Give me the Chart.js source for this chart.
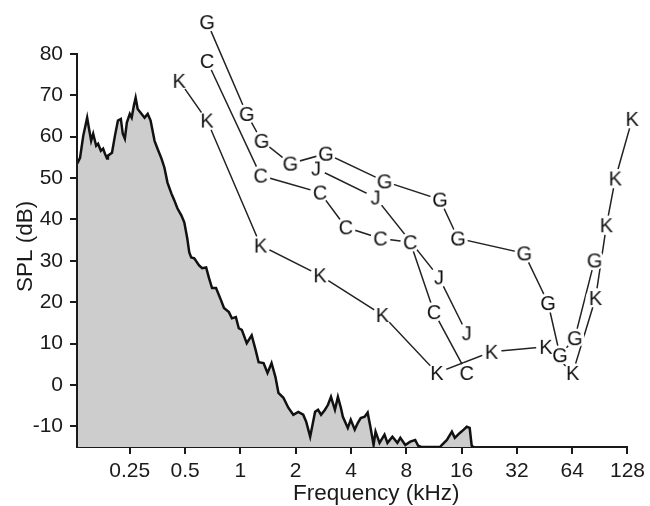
<!DOCTYPE html>
<html>
<head>
<meta charset="utf-8">
<script src="https://cdn.jsdelivr.net/npm/chart.js@4/dist/chart.umd.min.js"></script>
<style>
  html, body { margin: 0; padding: 0; background: #fff; }
  #wrap { width: 650px; height: 506px; }
</style>
</head>
<body>
<div id="wrap"><canvas id="c" width="650" height="506"></canvas></div>
<script>
// ---- data ----
const xTickValues = [0.25, 0.5, 1, 2, 4, 8, 16, 32, 64, 128];
const xTickLabels = ['0.25', '0.5', '1', '2', '4', '8', '16', '32', '64', '128'];
const yTickValues = [-10, 0, 10, 20, 30, 40, 50, 60, 70, 80];
const yAxisFrom = -15;
const yAxisTo = 80;
const xTitle = 'Frequency (kHz)';
const yTitle = 'SPL (dB)';

const gFreq = [0.659, 1.083, 1.305, 1.87, 2.92, 6.09, 12.2, 15.3, 35.1, 47.3, 54.9, 66.1, 84.7];
const gDb   = [87.7, 65.5, 59.0, 53.5, 55.9, 49.2, 44.8, 35.4, 31.8, 19.8, 7.2, 11.3, 30.1];

const cFreq = [0.659, 1.289, 2.715, 3.75, 5.79, 8.41, 11.33, 17.07];
const cDb   = [78.3, 50.6, 46.5, 38.1, 35.4, 34.5, 17.6, 2.9];

const jFreq = [2.58, 5.44, 12.05, 17.07];
const jDb   = [52.3, 45.3, 26.0, 12.5];

const kFreq = [0.465, 0.659, 1.289, 2.715, 5.94, 11.76, 23.3, 46.1, 64.5, 85.8, 98.4, 110, 135.9];
const kDb   = [73.5, 63.9, 33.7, 26.5, 16.9, 2.9, 8.0, 9.2, 2.9, 21.0, 38.6, 49.9, 64.3];

const specFreq = [0.1295, 0.134, 0.1395, 0.1465, 0.150, 0.154, 0.158, 0.164, 0.168, 0.174,
  0.179, 0.183, 0.188, 0.190, 0.200, 0.2075, 0.2155, 0.2235, 0.229, 0.235,
  0.241, 0.250, 0.256, 0.263, 0.269, 0.276, 0.290, 0.301, 0.313, 0.3245,
  0.341, 0.354, 0.372, 0.386, 0.401, 0.421, 0.437, 0.454, 0.477, 0.495,
  0.514, 0.527, 0.540, 0.561, 0.596, 0.619, 0.651, 0.675, 0.701, 0.737,
  0.784, 0.814, 0.866, 0.899, 0.945, 0.980, 1.018, 1.083, 1.152, 1.211,
  1.257, 1.337, 1.405, 1.478, 1.552, 1.611, 1.715, 1.824, 1.941, 2.066,
  2.198, 2.281, 2.398, 2.551, 2.648, 2.749, 2.888, 2.998, 3.113, 3.271,
  3.395, 3.524, 3.613, 3.844, 3.989, 4.193, 4.353, 4.518, 4.748, 4.929,
  5.116, 5.311, 5.443, 5.721, 6.089, 6.318, 6.722, 7.154, 7.425, 7.902,
  8.409, 8.946, 9.285, 9.64, 12.20, 12.51, 13.31, 14.17, 14.70, 15.65,
  16.44, 17.07, 17.71, 18.16, 18.62];
const specDb = [53.5, 54.9, 60.2, 64.6, 61.9, 59.0, 60.7, 57.8, 58.3, 56.6,
  57.1, 55.9, 54.7, 55.4, 56.1, 60.2, 63.9, 64.3, 60.7, 59.5,
  63.4, 65.5, 64.6, 67.5, 69.4, 66.7, 65.5, 64.6, 65.5, 63.9,
  59.0, 57.1, 54.7, 52.5, 48.9, 46.3, 44.6, 42.7, 41.0, 39.3,
  35.4, 32.0, 30.8, 30.6, 28.9, 28.2, 28.4, 25.8, 23.4, 23.4,
  20.5, 18.6, 17.6, 16.1, 16.4, 13.7, 13.3, 10.1, 12.0, 8.4,
  5.5, 5.3, 2.9, 5.3, 1.9, -1.9, -3.1, -5.5, -7.2, -6.5,
  -7.2, -8.9, -12.5, -6.5, -6.0, -7.2, -6.0, -4.8, -2.9, -6.0,
  -2.9, -5.5, -7.7, -10.4, -8.4, -10.8, -9.2, -8.0, -7.7, -6.7,
  -10.4, -14.5, -11.3, -14.0, -12.0, -14.0, -12.5, -14.0, -12.8, -14.5,
  -13.7, -13.3, -14.7, -15.0, -15.0, -14.5, -13.3, -11.3, -12.8, -11.6,
  -10.8, -10.1, -10.4, -14.7, -15.0];

const series = [
  { letter: 'G', freq: gFreq, db: gDb },
  { letter: 'C', freq: cFreq, db: cDb },
  { letter: 'J', freq: jFreq, db: jDb },
  { letter: 'K', freq: kFreq, db: kDb }
];

// ---- styling ----
const FONT = '"Liberation Sans", Arial, Helvetica, sans-serif';
const INK = '#1a1a1a';

function pts(fr, db) { return fr.map((f, i) => ({ x: f, y: db[i] })); }

function letterCanvas(ch) {
  const cv = document.createElement('canvas');
  cv.width = 28; cv.height = 28;
  const ctx = cv.getContext('2d');
  ctx.fillStyle = '#111';
  ctx.font = '20px ' + FONT;
  ctx.textAlign = 'center';
  ctx.textBaseline = 'alphabetic';
  ctx.fillText(ch, 14, 14 + 7.2);
  return cv;
}

const datasets = [];
datasets.push({
  label: 'spectrum',
  data: pts(specFreq, specDb),
  borderColor: '#111',
  borderWidth: 2.5,
  backgroundColor: '#cdcdcd',
  fill: 'start',
  pointRadius: 0,
  tension: 0,
  order: 4
});
series.forEach(s => {
  datasets.push({
    label: s.letter + ' line',
    data: pts(s.freq, s.db),
    borderColor: '#222',
    borderWidth: 1.5,
    pointRadius: 0,
    fill: false,
    tension: 0,
    clip: false,
    order: 3
  });
  datasets.push({
    label: s.letter + ' bg',
    data: pts(s.freq, s.db),
    showLine: false,
    pointStyle: 'circle',
    pointRadius: 10,
    pointBackgroundColor: '#ffffff',
    pointBorderColor: 'rgba(0,0,0,0)',
    pointBorderWidth: 0,
    clip: false,
    order: 2
  });
  datasets.push({
    label: s.letter,
    data: pts(s.freq, s.db),
    showLine: false,
    pointStyle: letterCanvas(s.letter),
    pointRadius: 10,
    clip: false,
    order: 1
  });
});

// y axis line only spans the labelled range (-15 .. 80)
const yAxisLinePlugin = {
  id: 'yAxisLine',
  afterDraw(chart) {
    const ctx = chart.ctx;
    const y = chart.scales.y;
    const x0 = chart.chartArea.left;
    ctx.save();
    ctx.strokeStyle = INK;
    ctx.lineWidth = 2;
    ctx.beginPath();
    ctx.moveTo(x0, y.getPixelForValue(yAxisTo) - 1);
    ctx.lineTo(x0, y.getPixelForValue(yAxisFrom) + 1);
    ctx.stroke();
    ctx.restore();
  }
};

const titlesPlugin = {
  id: 'titles',
  afterDraw(chart) {
    const ctx = chart.ctx;
    const a = chart.chartArea;
    const y = chart.scales.y;
    const yMid = (y.getPixelForValue(yAxisTo) + y.getPixelForValue(yAxisFrom)) / 2;
    ctx.save();
    ctx.fillStyle = INK;
    ctx.font = '22.5px ' + FONT;
    ctx.textAlign = 'center';
    ctx.textBaseline = 'alphabetic';
    ctx.fillText(xTitle, (a.left + a.right) / 2 + 24, 500);
    ctx.translate(32, yMid - 4);
    ctx.rotate(-Math.PI / 2);
    ctx.fillText(yTitle, 0, 0);
    ctx.restore();
  }
};

new Chart(document.getElementById('c'), {
  type: 'line',
  data: { datasets },
  plugins: [yAxisLinePlugin, titlesPlugin],
  options: {
    responsive: false,
    animation: false,
    events: [],
    layout: { padding: { top: 12, right: 18, bottom: 0, left: 0 } },
    plugins: { legend: { display: false }, tooltip: { enabled: false } },
    scales: {
      x: {
        type: 'logarithmic',
        min: 0.129,
        max: 128,
        afterBuildTicks: s => { s.ticks = xTickValues.map(v => ({ value: v })); },
        afterFit: s => { s.height = 59; },
        ticks: {
          autoSkip: false,
          maxRotation: 0,
          minRotation: 0,
          padding: 5,
          color: INK,
          font: { family: FONT, size: 21 },
          callback: (v, i) => xTickLabels[i]
        },
        grid: { display: true, drawOnChartArea: false, drawTicks: true, tickLength: 7, color: INK, lineWidth: 2 },
        border: { display: true, color: INK, width: 2 }
      },
      y: {
        type: 'linear',
        min: -15,
        max: 88.3,
        afterBuildTicks: s => { s.ticks = yTickValues.map(v => ({ value: v })); },
        afterFit: s => { s.width = 77; },
        ticks: {
          padding: 7,
          color: INK,
          font: { family: FONT, size: 21 },
          callback: v => String(v)
        },
        grid: { display: true, drawOnChartArea: false, drawTicks: true, tickLength: 7, color: INK, lineWidth: 2 },
        border: { display: false }
      }
    }
  }
});
</script>
</body>
</html>
